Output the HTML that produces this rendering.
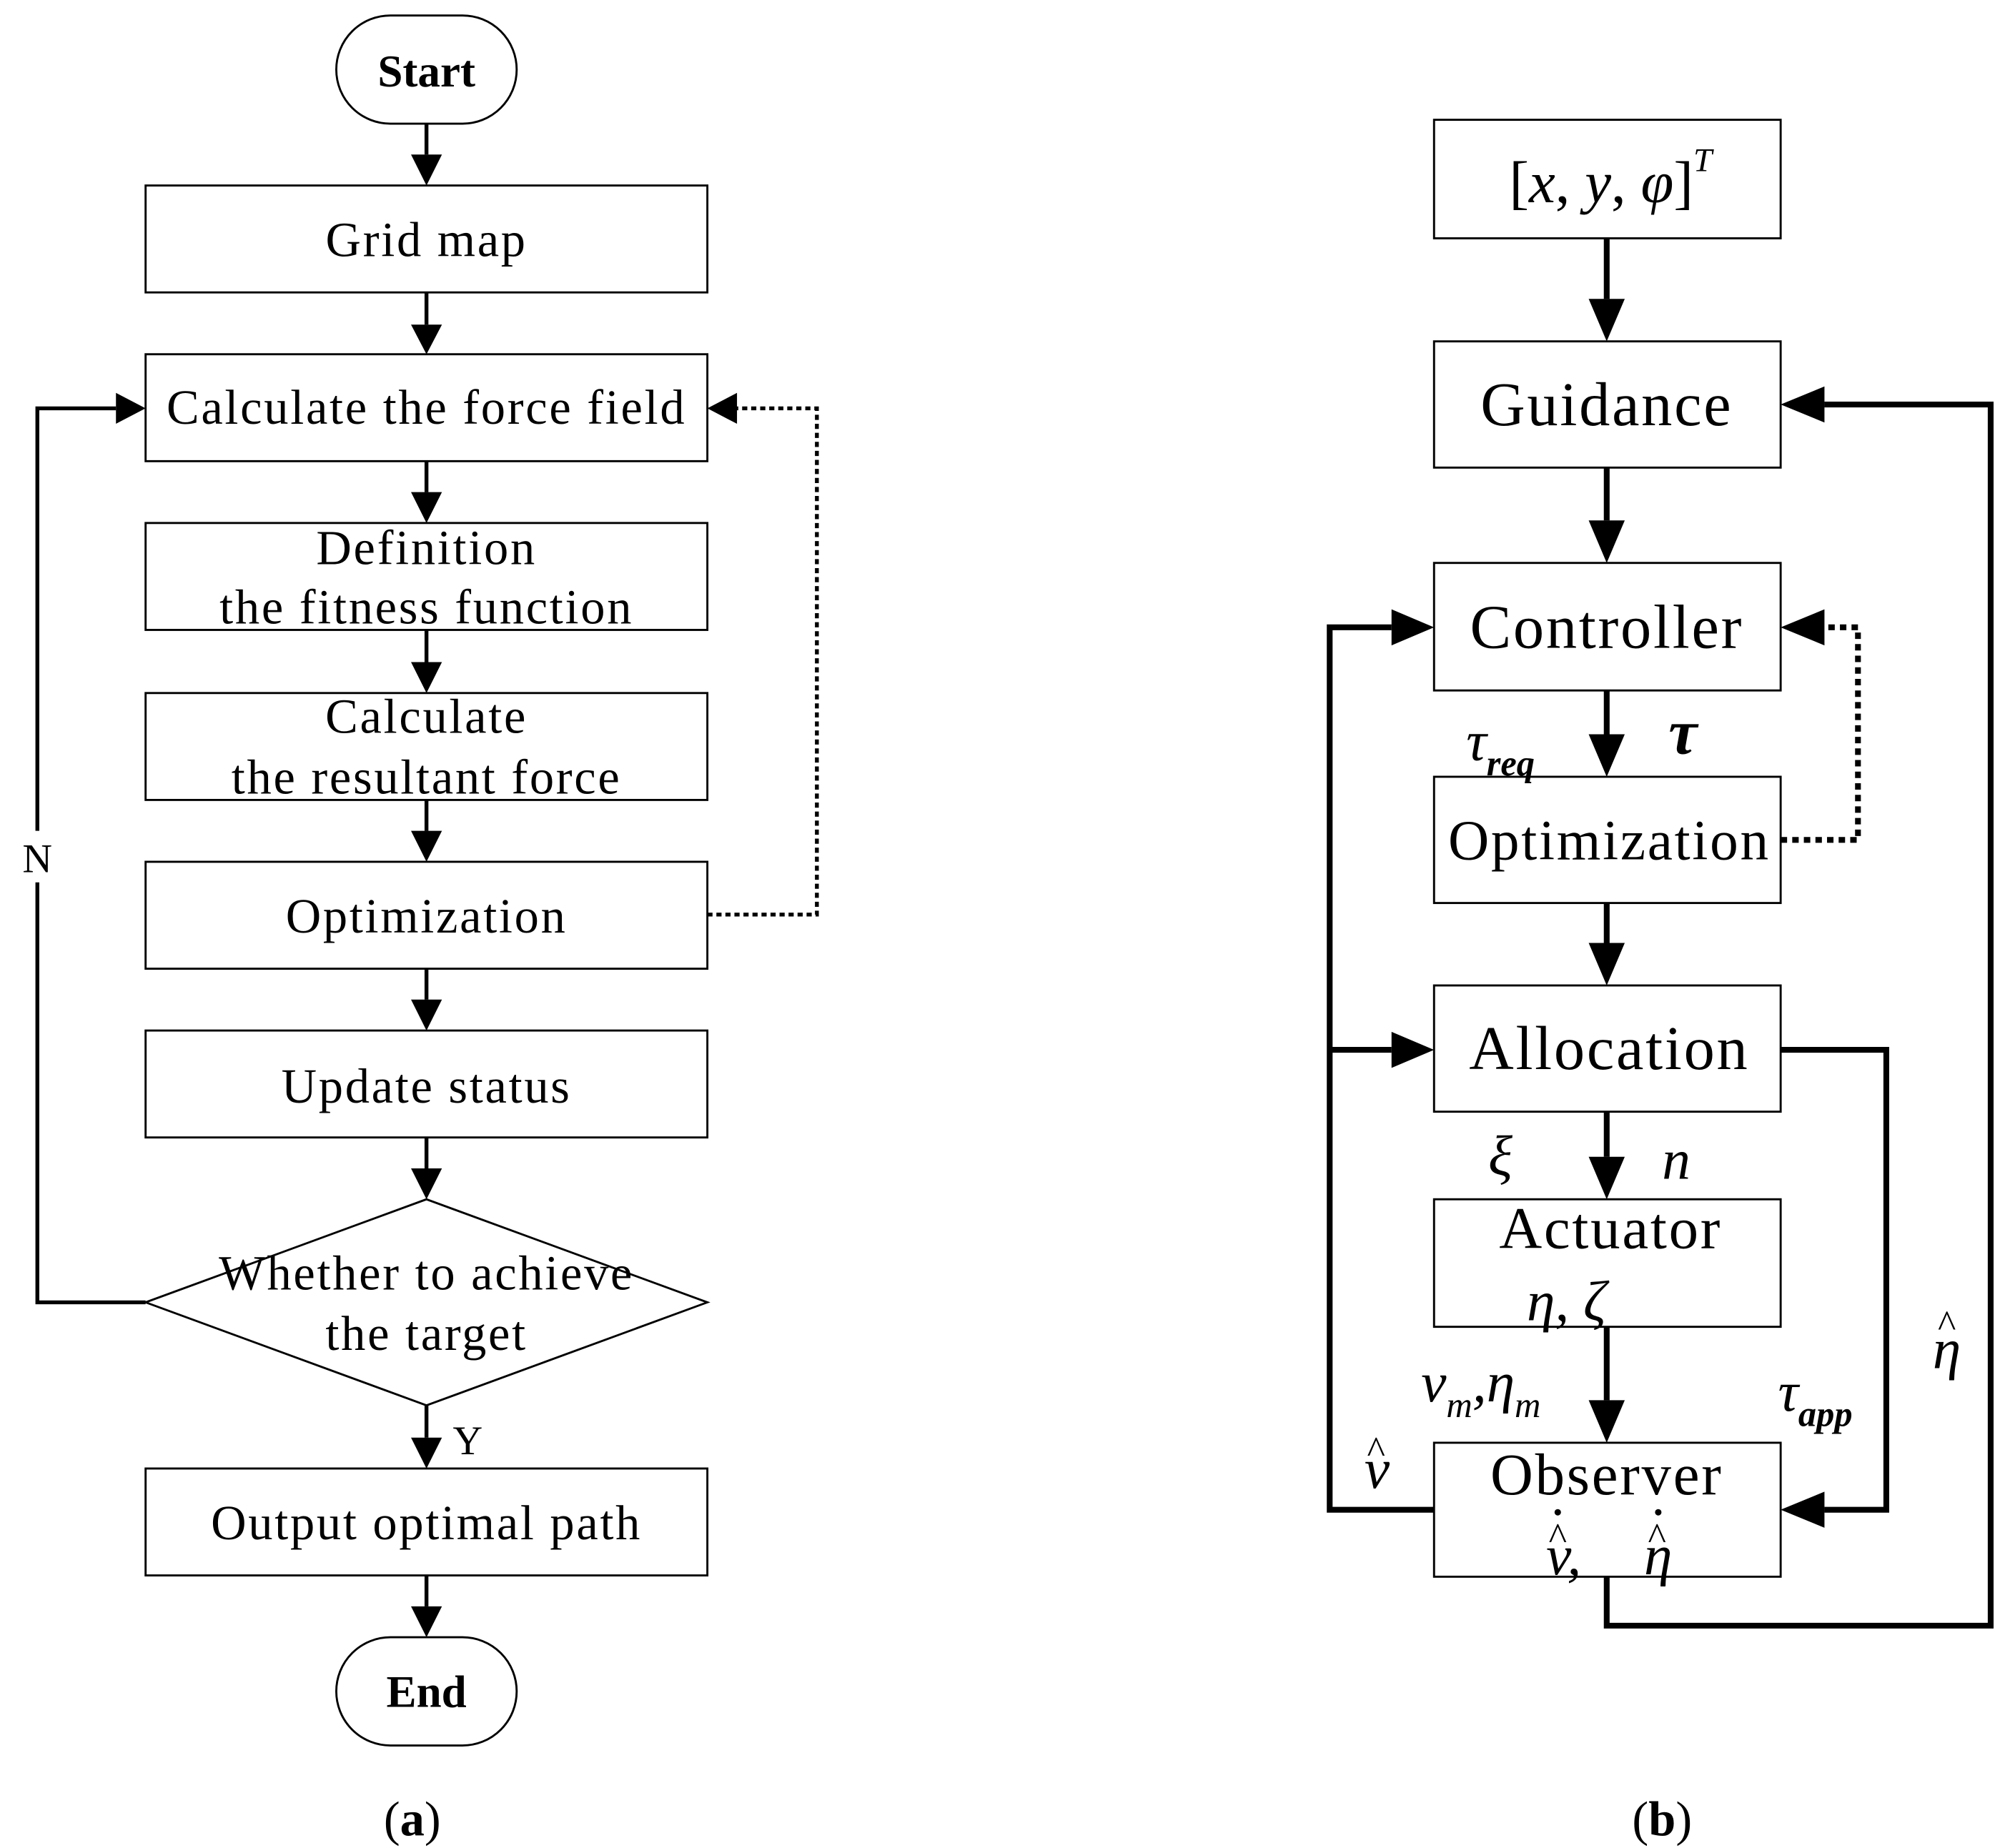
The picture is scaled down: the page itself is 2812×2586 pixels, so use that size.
<!DOCTYPE html>
<html><head><meta charset="utf-8"><style>html,body{margin:0;padding:0;background:#fff}svg{display:block}</style></head><body>
<svg width="2812" height="2586" viewBox="0 0 1560 1434.6" preserveAspectRatio="none" xmlns="http://www.w3.org/2000/svg" font-family="Liberation Serif, serif">
<g fill="none" stroke="#000" stroke-width="1.6">
<rect x="261" y="12" width="140" height="84" rx="42"/>
<rect x="113" y="144" width="436" height="83"/>
<rect x="113" y="275" width="436" height="83"/>
<rect x="113" y="406" width="436" height="83"/>
<rect x="113" y="538" width="436" height="83"/>
<rect x="113" y="669" width="436" height="83"/>
<rect x="113" y="800" width="436" height="83"/>
<polygon points="331,931 549,1011 331,1091 113,1011"/>
<rect x="113" y="1140" width="436" height="83"/>
<rect x="261" y="1271" width="140" height="84" rx="42"/>
<rect x="1113" y="93" width="269" height="92"/>
<rect x="1113" y="265" width="269" height="98"/>
<rect x="1113" y="437" width="269" height="99"/>
<rect x="1113" y="603" width="269" height="98"/>
<rect x="1113" y="765" width="269" height="98"/>
<rect x="1113" y="931" width="269" height="99"/>
<rect x="1113" y="1120" width="269" height="104"/>
</g>
<g fill="none" stroke="#000" stroke-width="3">
<path d="M331 96V120M331 227V252M331 358V382M331 489V514M331 621V645M331 752V776M331 883V907M331 1091V1116M331 1223V1247"/>
<path d="M113 1011H29V685M29 645V317H90"/>
<path d="M549 710H634V317H572" stroke-dasharray="4,3"/>
</g>
<g fill="#000">
<path d="M319 120h24l-12 24zM319 252h24l-12 23zM319 382h24l-12 24zM319 514h24l-12 24zM319 645h24l-12 24zM319 776h24l-12 24zM319 907h24l-12 24zM319 1116h24l-12 24zM319 1247h24l-12 24z"/>
<path d="M90 305v24l23-12zM572 305v24l-23-12z"/>
</g>
<g fill="none" stroke="#000" stroke-width="4.5">
<path d="M1247 185V232M1247 363V404M1247 536V570M1247 701V732M1247 863V898M1247 1030V1087"/>
<path d="M1382 815H1464V1172H1416"/>
<path d="M1247 1224V1262H1545V314H1416"/>
<path d="M1113 1172H1032V487H1080M1032 815H1080"/>
<path d="M1382 652H1442V487H1416" stroke-dasharray="5,4"/>
</g>
<g fill="#000">
<path d="M1233 232h28l-14 33zM1233 404h28l-14 33zM1233 570h28l-14 33zM1233 732h28l-14 33zM1233 898h28l-14 33zM1233 1087h28l-14 33z"/>
<path d="M1416 1158v28l-34-14zM1416 300v28l-34-14zM1416 473v28l-34-14zM1080 473v28l33-14zM1080 801v28l33-14z"/>
</g>
<g font-size="38" text-anchor="middle" letter-spacing="1.5">
<text x="331" y="67" font-weight="bold" font-size="35" letter-spacing="0">Start</text>
<text x="331" y="199">Grid map</text>
<text x="331" y="329">Calculate the force field</text>
<text x="331" y="438">Definition</text>
<text x="331" y="484">the fitness function</text>
<text x="331" y="569">Calculate</text>
<text x="331" y="616">the resultant force</text>
<text x="331" y="724">Optimization</text>
<text x="331" y="856">Update status</text>
<text x="331" y="1001">Whether to achieve</text>
<text x="331" y="1048">the target</text>
<text x="331" y="1195">Output optimal path</text>
<text x="331" y="1325" font-weight="bold" font-size="35" letter-spacing="0">End</text>
<text x="29" y="677" font-size="32" letter-spacing="0">N</text>
<text x="363" y="1129" font-size="32" letter-spacing="0">Y</text>
<text x="320" y="1425" font-size="38" letter-spacing="0"><tspan>(</tspan><tspan font-weight="bold">a</tspan><tspan>)</tspan></text>
<text x="1290" y="1425" font-size="38" letter-spacing="0"><tspan>(</tspan><tspan font-weight="bold">b</tspan><tspan>)</tspan></text>
<text x="1250" y="157" font-size="46" letter-spacing="0">[<tspan font-style="italic">x</tspan>, <tspan font-style="italic">y</tspan>, <tspan font-style="italic">φ</tspan>]<tspan font-size="26" dy="-24" font-style="italic">T</tspan></text>
<text x="1247" y="330" font-size="48">Guidance</text>
<text x="1247" y="503" font-size="48">Controller</text>
<text x="1249" y="667" font-size="44">Optimization</text>
<text x="1249" y="830" font-size="48">Allocation</text>
<text x="1250" y="969" font-size="46">Actuator</text>
<text x="1247" y="1160" font-size="46">Observer</text>
</g>
<g font-style="italic" font-size="44">
<text x="1138" y="590">τ<tspan font-size="28" font-weight="bold" dy="12">req</tspan></text>
<text x="1295" y="585" font-weight="bold" font-size="50">τ</text>
<text x="1155" y="912">ξ</text>
<text x="1290" y="915">n</text>
<text x="1185" y="1025">η,  ζ</text>
<text x="1103" y="1088">v<tspan font-size="28" dy="12">m</tspan><tspan dy="-12">,η</tspan><tspan font-size="28" dy="12">m</tspan></text>
<text x="1380" y="1095">τ<tspan font-size="28" font-weight="bold" dy="12">app</tspan></text>
<text x="1500" y="1062">η</text>
<text x="1059" y="1155">v</text>
<text x="1200" y="1222">v,</text>
<text x="1276" y="1222">η</text>
</g>
<g font-size="30" font-family="Liberation Serif, serif">
<text x="1504" y="1038">^</text>
<text x="1061" y="1136">^</text>
<text x="1202" y="1203">^</text>
<text x="1279" y="1203">^</text>
</g>
<g fill="#000">
<circle cx="1209" cy="1174" r="2.5"/>
<circle cx="1287" cy="1174" r="2.5"/>
</g>
</svg>
</body></html>
